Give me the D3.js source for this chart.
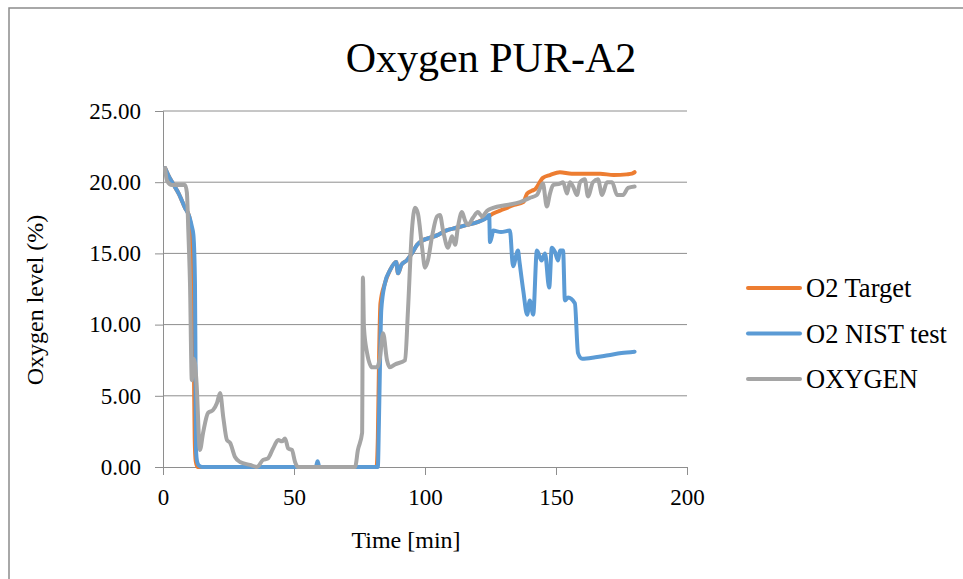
<!DOCTYPE html>
<html>
<head>
<meta charset="utf-8">
<script src="https://cdn.jsdelivr.net/npm/d3@7"></script>
<style>
  body { margin: 0; background: #fff; }
  svg { display: block; }
  svg text { font-family: "Liberation Serif", "Times New Roman", serif !important; fill: #000; }
</style>
</head>
<body>
<svg id="chart" width="963" height="579"></svg>
<script>
// time [min] and oxygen [%] for each series
const targetTime = [0.8, 2, 3.8, 6, 8.4, 10, 10.8, 11.3, 11.8, 12.1, 12.5, 13.2, 15, 81.5, 82, 82.5, 83, 84.7, 86.6, 89, 89.7, 91, 93, 95, 97, 99, 102, 105, 108, 112, 116, 120, 123.5, 126, 130, 134, 137.5, 139, 140.8, 142, 145, 147.7, 151.5, 156, 160, 166.8, 172, 177, 179, 180];
const targetO2 = [21.0, 20.5, 19.9, 19.2, 18.2, 17.6, 16.5, 12.5, 7, 2, 0.4, 0, 0, 0, 2, 8, 11.5, 12.9, 13.8, 14.4, 13.6, 14.2, 14.5, 15.0, 15.6, 15.9, 16.1, 16.3, 16.6, 16.8, 17.0, 17.2, 17.5, 17.8, 18.1, 18.4, 18.6, 19.2, 19.4, 19.5, 20.3, 20.5, 20.7, 20.6, 20.6, 20.6, 20.5, 20.55, 20.6, 20.7];

const nistTime = [0.8, 2, 3.8, 6, 8.4, 10, 11, 11.6, 12.2, 12.4, 12.6, 13.0, 13.7, 15, 58.3, 59, 59.7, 82, 82.4, 82.8, 83.3, 84.7, 86.6, 89, 89.7, 91, 93, 95, 97, 99, 102, 105, 108, 112, 116, 120, 123.5, 124.5, 124.8, 125.5, 126, 129, 132.4, 133.6, 135.5, 136, 137.5, 139, 140, 141.3, 142.7, 144.5, 145.8, 147.4, 148.4, 149.6, 150.8, 151.5, 152.7, 153.4, 154.6, 157.2, 158.4, 160, 165, 170, 175, 180];
const nistO2 = [21.0, 20.5, 19.9, 19.2, 18.2, 17.6, 16.9, 16.3, 12.9, 7.5, 1.2, 0.4, 0.1, 0, 0, 0.4, 0, 0, 3, 7, 11, 12.9, 13.8, 14.4, 13.6, 14.2, 14.5, 15.0, 15.6, 15.9, 16.1, 16.3, 16.6, 16.8, 17.0, 17.2, 17.5, 17.7, 15.8, 16.2, 16.6, 16.5, 16.6, 14.1, 15.2, 14.5, 12.4, 10.7, 11.7, 10.7, 15.2, 14.5, 15.0, 12.6, 15.4, 15.1, 14.5, 15.2, 15.2, 11.7, 11.9, 11.5, 8.0, 7.6, 7.7, 7.85, 8.0, 8.1];

const oxyTime = [0.8, 1.5, 3.4, 8.4, 9.1, 9.7, 10.3, 11, 11.6, 12.2, 12.8, 14.1, 15.3, 17.2, 19.1, 20.6, 21.8, 23, 24.4, 25.6, 27.5, 29.4, 33.2, 35.9, 38.2, 40, 42, 44, 45.4, 46.6, 47.8, 49.2, 50.4, 51.5, 73.3, 74.4, 76, 76.3, 76.7, 77.9, 79.8, 81.7, 82.8, 84, 85.5, 86.6, 88.5, 92.4, 93.5, 95, 96.2, 97.3, 98.9, 100, 101.1, 102.7, 104.6, 105.7, 106.9, 108.8, 110.3, 111.5, 112.6, 114.1, 115.3, 116.4, 118.3, 120.2, 121.8, 123.7, 126, 131.3, 136.3, 140, 142.7, 144, 145, 146.5, 147.7, 148.9, 151.5, 152.7, 154.2, 155.3, 156.5, 158, 159.2, 161, 162.2, 164.1, 166, 167.6, 169.5, 171.4, 173.3, 175.6, 177.5, 180];
const oxyO2 = [21.0, 20.1, 19.8, 19.8, 19.3, 16.4, 12.9, 6.1, 7.6, 7.3, 5.9, 1.2, 2.4, 3.8, 4.0, 4.5, 5.2, 3.5, 1.9, 1.7, 0.7, 0.35, 0.15, 0, 0.5, 0.6, 1.3, 1.9, 1.8, 2.0, 1.3, 1.2, 0.35, 0, 0, 1.2, 2.4, 13.3, 9.8, 8.0, 7.0, 7.0, 7.7, 9.4, 7.5, 7.0, 7.2, 7.5, 11, 16.6, 18.2, 17.8, 15.4, 14.0, 14.5, 16.2, 17.6, 17.7, 16.6, 15.4, 16.2, 15.6, 16.9, 17.9, 17.3, 17.0, 17.5, 17.9, 17.6, 18.0, 18.2, 18.4, 18.6, 18.9, 19.1, 19.6, 19.9, 18.3, 19.2, 19.8, 19.9, 20.0, 19.2, 20.0, 19.7, 19.1, 20.0, 20.2, 19.0, 20.0, 20.2, 19.1, 20.0, 20.0, 19.1, 19.1, 19.6, 19.7];

const seriesNames = ["O2 Target", "O2 NIST test", "OXYGEN"];
const seriesColors = ["#ED7D31", "#5B9BD5", "#A5A5A5"];
const xTicks = [0, 50, 100, 150, 200];
const yTicks = [0, 5, 10, 15, 20, 25];

const svg = d3.select("#chart");

// outer chart border
svg.append("rect")
    .attr("x", 9).attr("y", 8)
    .attr("width", 1000).attr("height", 700)
    .attr("fill", "none")
    .attr("stroke", "#8c8c8c")
    .attr("stroke-width", 1.5);

const x = d3.scaleLinear().domain([0, 200]).range([163, 687]);
const y = d3.scaleLinear().domain([0, 25]).range([467, 111]);

// gridlines
svg.append("g")
    .selectAll("line")
    .data(yTicks.slice(1))
    .join("line")
    .attr("x1", x(0)).attr("x2", x(200))
    .attr("y1", d => y(d)).attr("y2", d => y(d))
    .attr("stroke", "#8e8e8e")
    .attr("stroke-width", 1);

// axes
const yAxis = svg.append("g")
    .attr("transform", `translate(${x(0)},0)`)
    .call(d3.axisLeft(y).tickValues(yTicks).tickFormat(d3.format(".2f")).tickSize(8).tickPadding(14));

const xAxis = svg.append("g")
    .attr("transform", `translate(0,${y(0)})`)
    .call(d3.axisBottom(x).tickValues(xTicks).tickSize(8).tickPadding(14));

[xAxis, yAxis].forEach(g => {
    g.attr("font-family", "Liberation Serif").attr("font-size", 23);
    g.select(".domain").attr("stroke", "#8e8e8e");
    g.selectAll(".tick line").attr("stroke", "#8e8e8e");
    g.selectAll(".tick text")
        .attr("font-family", "Liberation Serif")
        .attr("font-size", 23)
        .attr("fill", "#000");
});

// lines
const allSeries = [
    { time: targetTime, vals: targetO2 },
    { time: nistTime, vals: nistO2 },
    { time: oxyTime, vals: oxyO2 }
];

const line = d3.line()
    .x(d => x(d[0]))
    .y(d => y(d[1]))
    .curve(d3.curveMonotoneX);

svg.append("g")
    .selectAll("path")
    .data(allSeries)
    .join("path")
    .attr("d", s => line(s.time.map((t, i) => [t, s.vals[i]])))
    .attr("fill", "none")
    .attr("stroke", (s, i) => seriesColors[i])
    .attr("stroke-width", 4)
    .attr("stroke-linejoin", "round")
    .attr("stroke-linecap", "round");

// title
svg.append("text")
    .attr("x", 491).attr("y", 72)
    .attr("text-anchor", "middle")
    .style("font-size", "42px")
    .text("Oxygen PUR-A2");

// axis titles
svg.append("text")
    .attr("x", 406).attr("y", 548)
    .attr("text-anchor", "middle")
    .style("font-size", "24px")
    .text("Time [min]");

svg.append("text")
    .attr("transform", "translate(43,300) rotate(-90)")
    .attr("text-anchor", "middle")
    .style("font-size", "24px")
    .text("Oxygen level (%)");

// legend
const legend = svg.append("g")
    .selectAll("g")
    .data(seriesNames)
    .join("g")
    .attr("transform", (d, i) => `translate(748,${288 + i * 45.5})`);

legend.append("line")
    .attr("x1", 0).attr("x2", 52)
    .attr("stroke", (d, i) => seriesColors[i])
    .attr("stroke-width", 4)
    .attr("stroke-linecap", "round");

legend.append("text")
    .attr("x", 58).attr("dy", "0.35em")
    .style("font-size", "26.5px")
    .text(d => d);
</script>
</body>
</html>
